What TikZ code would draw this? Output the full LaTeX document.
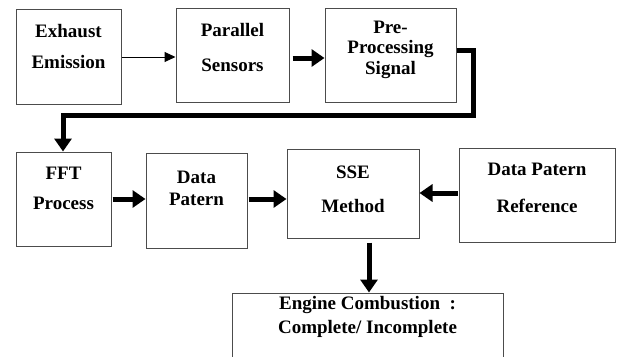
\documentclass[tikz,border=0pt]{standalone}
\usepackage{fontspec}
\setmainfont{Liberation Serif}
\usetikzlibrary{arrows.meta}
\begin{document}
\begin{tikzpicture}[x=1pt,y=-1pt,
  box/.style={draw=black!70, line width=1pt, rectangle, inner sep=0pt},
  lbl/.style={align=center, inner sep=0pt, font=\bfseries},
  thin/.style={line width=1pt, -{Triangle[length=11pt,width=10pt]}},
  thick/.style={line width=5pt, -{Triangle[length=13pt,width=17pt]}}]
\clip (0,0) rectangle (618,356);
\fill[white] (0,0) rectangle (618,356);
% boxes
\node[box, minimum width=105pt, minimum height=95pt] (ee) at (68.5,56.5) {};
\node[box, minimum width=113pt, minimum height=94pt] (ps) at (232.5,55) {};
\node[box, minimum width=131pt, minimum height=94pt] (pp) at (390.5,55) {};
\node[box, minimum width=95pt, minimum height=94pt] (fft) at (63.5,199) {};
\node[box, minimum width=101pt, minimum height=95pt] (dp) at (196.5,200.5) {};
\node[box, minimum width=132pt, minimum height=89pt] (sse) at (353,193.5) {};
\node[box, minimum width=156pt, minimum height=94pt] (ref) at (537,195) {};
\node[box, minimum width=271pt, minimum height=100pt] (ec) at (367.5,343) {};
% labels
\node[lbl, font=\fontsize{19}{31}\selectfont\bfseries] (eet) at (68.5,46.5) {Exhaust\\Emission};
\node[lbl, font=\fontsize{19}{35}\selectfont\bfseries] (pst) at (232.5,47.5) {Parallel\\Sensors};
\node[lbl, font=\fontsize{19}{20.5}\selectfont\bfseries] (ppt) at (390.5,49.5) {Pre-\\Processing\\Signal};
\node[lbl, font=\fontsize{19}{30}\selectfont\bfseries] (fftt) at (63.5,188) {FFT\\Process};
\node[lbl, font=\fontsize{19}{22}\selectfont\bfseries] (dpt) at (196.5,188) {Data\\Patern};
\node[lbl, font=\fontsize{19}{34}\selectfont\bfseries] (sset) at (353,189) {SSE\\Method};
\node[lbl, font=\fontsize{19}{37}\selectfont\bfseries] (reft) at (537,187.5) {Data Patern\\Reference};
\node[lbl, font=\fontsize{19}{24}\selectfont\bfseries] (ect) at (367.5,317) {Engine Combustion~~:\\Complete/ Incomplete};
% connectors
\draw[thin] (ee.east |- 0,57) -- (ps.west |- 0,57);
\draw[thick, shorten <=3pt] (ps.east |- 0,58) -- (pp.west |- 0,58);
\draw[line width=5pt, line join=miter, -{Triangle[length=13pt,width=17pt]}]
  (pp.east |- 0,50) -| (473,115) -| (fft.north -| 63,0);
\draw[thick, shorten <=1pt] (fft.east |- 0,199) -- (dp.west |- 0,199);
\draw[thick, shorten <=1pt] (dp.east |- 0,199) -- (sse.west |- 0,199);
\draw[thick, shorten <=1pt] (ref.west |- 0,193) -- (sse.east |- 0,193);
\draw[thick, shorten <=4pt] (sse.south -| 369,0) -- (ec.north -| 369,0);
\end{tikzpicture}
\end{document}
